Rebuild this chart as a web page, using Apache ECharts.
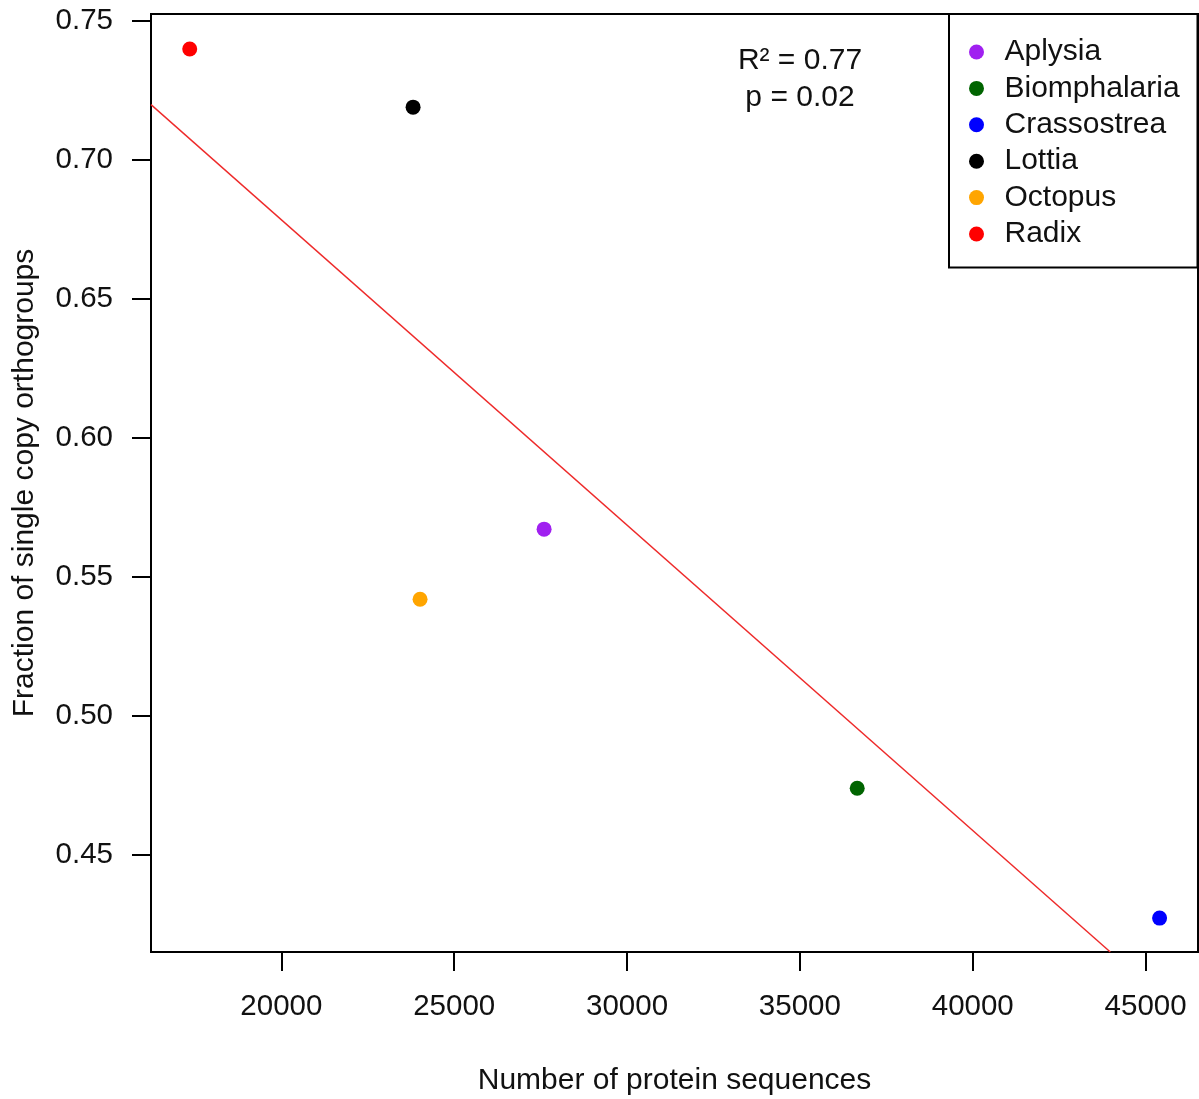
<!DOCTYPE html>
<html>
<head>
<meta charset="utf-8">
<script src="https://cdn.jsdelivr.net/npm/echarts@6/dist/echarts.min.js"></script>
<style>html,body{margin:0;padding:0;background:#fff}#c{width:1199px;height:1099px}</style>
</head>
<body>
<div id="c"></div>
<script>
var species = ['Aplysia', 'Biomphalaria', 'Crassostrea', 'Lottia', 'Octopus', 'Radix'];
var proteins = [27601, 36658, 45405, 23811, 24013, 17350];
var fraction = [0.5672, 0.4740, 0.4273, 0.7190, 0.5420, 0.7399];
var colors = ['#a020f0', '#006400', '#0000ff', '#000000', '#ffa500', '#ff0000'];
var fitX = [16230, 43979];
var fitY = [0.7199, 0.4151];
var xTicks = [20000, 25000, 30000, 35000, 40000, 45000];
var yTicks = [0.45, 0.50, 0.55, 0.60, 0.65, 0.70, 0.75];
var statsText = 'R\u00b2 = 0.77\np = 0.02';

var FONT = '"Liberation Sans", Arial, sans-serif';
var chart = echarts.init(document.getElementById('c'));
var series = species.map(function (s, i) {
  return {
    name: s, type: 'scatter', symbol: 'circle', symbolSize: 15,
    itemStyle: { color: colors[i], opacity: 1 },
    data: [[proteins[i], fraction[i]]], z: 3
  };
});
series.push({
  name: 'fit', type: 'line', showSymbol: false, symbol: 'none', clip: true,
  lineStyle: { color: '#ee2a2a', width: 1.4 },
  data: fitX.map(function (x, i) { return [x, fitY[i]]; }), z: 2, silent: true
});
chart.setOption({
  animation: false,
  backgroundColor: '#fff',
  textStyle: { fontFamily: FONT },
  title: {
    text: statsText, left: 795, top: 37, textAlign: 'center',
    textStyle: { fontFamily: FONT, fontSize: 30, fontWeight: 'normal', color: '#111', lineHeight: 37 }
  },
  grid: { left: 151, top: 14, width: 1047, height: 938, show: true, borderColor: '#000', borderWidth: 2,
    containLabel: false, outerBoundsMode: 'none' },
  legend: {
    data: species, orient: 'vertical', left: 969, top: 37, itemWidth: 46, itemHeight: 15, itemGap: 6.4,
    icon: 'circle', padding: 0,
    textStyle: { fontFamily: FONT, fontSize: 30, color: '#111', lineHeight: 30 }
  },
  graphic: [{
    type: 'rect', shape: { x: 949, y: 14, width: 248.5, height: 253.5 },
    style: { fill: 'none', stroke: '#000', lineWidth: 2 }, z: 10
  }],
  xAxis: {
    type: 'value', min: 16230, max: 46516,
    name: 'Number of protein sequences', nameLocation: 'middle', nameGap: 114,
    nameTextStyle: { fontFamily: FONT, fontSize: 30, color: '#111' },
    axisLine: { show: false }, splitLine: { show: false },
    axisTick: { show: true, inside: false, length: 19, customValues: xTicks, lineStyle: { color: '#000', width: 2 } },
    axisLabel: { customValues: xTicks, margin: 40, fontSize: 29.5, color: '#111', fontFamily: FONT,
      formatter: function (v) { return String(v); } }
  },
  yAxis: {
    type: 'value', min: 0.4151, max: 0.7525,
    name: 'Fraction of single copy orthogroups', nameLocation: 'middle', nameGap: 111,
    nameTextStyle: { fontFamily: FONT, fontSize: 30, color: '#111' },
    axisLine: { show: false }, splitLine: { show: false },
    axisTick: { show: true, inside: false, length: 19, customValues: yTicks, lineStyle: { color: '#000', width: 2 } },
    axisLabel: { customValues: yTicks, margin: 38, fontSize: 29.5, color: '#111', fontFamily: FONT,
      formatter: function (v) { return v.toFixed(2); } }
  },
  series: series
});
</script>
</body>
</html>
